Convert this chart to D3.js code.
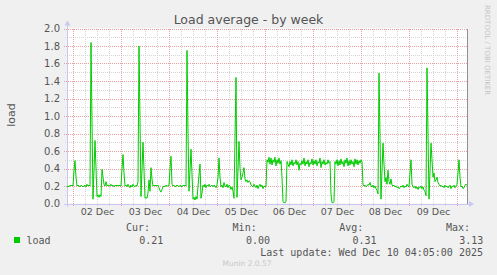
<!DOCTYPE html>
<html><head><meta charset="utf-8">
<script src="https://cdn.jsdelivr.net/npm/d3@7"></script>
<style>body{margin:0;background:#f0f0f0;} svg{display:block}</style>
</head><body><svg id="c" width="497" height="275"></svg>
<script>
const title = "Load average - by week";
const seriesName = "load";
const axisLabel = "load";
const windowStart = "2025-12-01T21:00:00Z";
const windowEnd = "2025-12-10T05:00:00Z";
// half-hour steps from window start
const stepIdx = [0,1,2,3,4,5,6,7,8,9,10,11,12,13,14,15,16,17,18,19,20,21,22,23,24,26,28,30,31,32,33,34,35,36,37,38,39,40,41,43,44,45,46,47,48,49,50,51,52,53,54,55,56,57,58,59,60,61,62,63,64,65,66,67,68,69,70,71,72,74,76,78,79,80,81,82,83,84,85,86,87,88,89,90,91,92,93,94,95,96,97,98,99,100,101,102,103,104,105,106,107,108,109,110,111,112,113,114,115,116,117,118,119,120,121,122,124,126,127,128,129,130,131,133,134,135,136,137,138,139,140,141,142,143,144,145,146,147,148,149,150,151,152,153,154,155,156,157,158,159,160,161,162,163,164,165,166,167,169,170,172,173,174,175,176,177,178,179,180,181,182,183,184,185,186,187,188,189,190,191,192,193,194,195,196,197,198,199,200,201,202,203,204,205,206,207,208,209,210,211,212,213,214,215,216,217,218,219,220,221,222,223,224,225,226,227,228,229,230,231,232,233,234,235,236,237,238,239,240,241,242,243,244,245,246,247,248,249,250,251,252,253,254,255,256,257,258,259,260,261,262,263,264,265,266,267,268,269,270,271,272,273,274,275,276,277,278,279,280,281,282,283,284,285,286,287,288,289,290,291,292,293,294,295,296,297,298,299,300,301,302,303,304,305,306,307,308,309,310,311,312,314,316,317,318,319,320,321,322,323,324,325,326,327,328,329,330,331,332,333,334,335,336,337,338,339,340,341,342,343,344,345,346,347,348,349,350,351,352,353,354,355,356,357,358,359,360,362,364,365,366,367,368,369,370,371,372,373,374,375,376,377,378,379,380,381,382,383,384,385,386,387,388,389,390,391,392,393,394,395,396,397,398,399,400];
const loadValues = [0.19,0.20,0.19,0.21,0.20,0.21,0.20,0.38,0.49,0.30,0.20,0.21,0.20,0.19,0.21,0.20,0.19,0.20,0.21,0.19,0.22,0.20,0.21,0.20,1.84,0.05,0.72,0.08,0.10,0.07,0.10,0.08,0.39,0.30,0.22,0.20,0.25,0.20,0.21,0.20,0.22,0.20,0.21,0.19,0.21,0.20,0.21,0.20,0.21,0.20,0.20,0.40,0.56,0.35,0.20,0.21,0.19,0.22,0.20,0.18,0.21,0.19,0.22,0.20,0.19,0.21,0.20,0.25,1.80,0.08,0.70,0.06,0.07,0.06,0.12,0.27,0.14,0.41,0.28,0.20,0.21,0.20,0.21,0.20,0.21,0.18,0.15,0.13,0.16,0.19,0.20,0.19,0.21,0.20,0.20,0.21,0.40,0.54,0.22,0.20,0.21,0.19,0.20,0.21,0.20,0.19,0.21,0.20,0.19,0.21,0.20,0.21,0.20,1.75,0.80,0.14,0.62,0.05,0.07,0.04,0.08,0.05,0.20,0.45,0.06,0.12,0.21,0.19,0.22,0.18,0.21,0.20,0.22,0.19,0.20,0.21,0.19,0.21,0.20,0.18,0.21,0.30,0.52,0.30,0.19,0.21,0.18,0.24,0.20,0.19,0.22,0.18,0.21,0.20,0.16,0.19,0.14,0.06,1.44,0.07,0.71,0.40,0.27,0.30,0.35,0.41,0.28,0.25,0.27,0.24,0.26,0.25,0.21,0.20,0.19,0.22,0.20,0.18,0.21,0.17,0.20,0.22,0.19,0.21,0.17,0.20,0.19,0.20,0.50,0.47,0.53,0.45,0.52,0.44,0.50,0.47,0.53,0.43,0.50,0.46,0.52,0.45,0.49,0.30,0.02,0.01,0.01,0.02,0.48,0.45,0.42,0.48,0.44,0.50,0.43,0.47,0.45,0.50,0.44,0.48,0.38,0.46,0.44,0.49,0.45,0.52,0.43,0.48,0.45,0.50,0.42,0.47,0.45,0.51,0.44,0.49,0.45,0.50,0.43,0.48,0.46,0.52,0.41,0.48,0.45,0.50,0.44,0.47,0.45,0.50,0.46,0.48,0.10,0.01,0.01,0.02,0.48,0.45,0.50,0.43,0.49,0.44,0.51,0.45,0.48,0.42,0.50,0.46,0.52,0.43,0.49,0.44,0.50,0.45,0.48,0.42,0.51,0.45,0.50,0.44,0.49,0.46,0.50,0.48,0.21,0.20,0.21,0.19,0.20,0.22,0.21,0.24,0.20,0.19,0.21,0.18,0.20,0.17,0.15,0.11,1.49,0.05,0.69,0.45,0.25,0.30,0.22,0.38,0.25,0.22,0.28,0.21,0.20,0.21,0.19,0.20,0.18,0.19,0.17,0.18,0.20,0.19,0.21,0.18,0.20,0.19,0.22,0.20,0.19,0.35,0.50,0.22,0.19,0.18,0.20,0.17,0.19,0.16,0.19,0.18,0.20,0.17,0.19,0.15,0.14,0.09,1.55,0.05,0.69,0.50,0.30,0.35,0.25,0.27,0.30,0.24,0.22,0.20,0.21,0.19,0.20,0.18,0.21,0.19,0.20,0.18,0.19,0.21,0.17,0.20,0.19,0.21,0.18,0.20,0.22,0.35,0.50,0.30,0.19,0.20,0.17,0.18,0.21,0.22,0.21];
const yTickValues = [0,0.2,0.4,0.6,0.8,1.0,1.2,1.4,1.6,1.8,2.0];
const yMinorValues = [0.1,0.3,0.5,0.7,0.9,1.1,1.3,1.5,1.7,1.9];
const dayLabels = ["02 Dec","03 Dec","04 Dec","05 Dec","06 Dec","07 Dec","08 Dec","09 Dec"];
const legendHeads = ["Cur:","Min:","Avg:","Max:"];
const legendVals = ["0.21","0.00","0.31","3.13"];
const lastUpdate = "Last update: Wed Dec 10 04:05:00 2025";
const footer = "Munin 2.0.57";
const watermark = "RRDTOOL / TOBI OETIKER";

const svg = d3.select("#c");
const L = 67, R = 467, T = 28.5, B = 203.5;
const t0 = new Date(windowStart), t1 = new Date(windowEnd);
const x = d3.scaleUtc().domain([t0, t1]).range([L, R]);
const y = d3.scaleLinear().domain([0, 2]).range([B, T]);
const sans = "'DejaVu Sans', sans-serif", mono = "'DejaVu Sans Mono', monospace";

svg.append("rect").attr("width",497).attr("height",275).attr("fill","#f0f0f0");
svg.append("rect").attr("x",L).attr("y",T).attr("width",R-L).attr("height",B-T).attr("fill","#ffffff");

// grids
const minorHours = d3.utcHour.every(6).range(t0, t1).filter(d => d.getUTCHours() !== 0);
const days = d3.utcDay.range(t0, t1);
const g = svg.append("g").attr("shape-rendering","crispEdges");
g.selectAll(".vm").data(minorHours).join("line")
  .attr("x1", d => Math.round(x(d))+0.5).attr("x2", d => Math.round(x(d))+0.5)
  .attr("y1", T).attr("y2", B+2).attr("stroke","#d4d4d4").attr("stroke-dasharray","1,1");
g.selectAll(".hm").data(yMinorValues).join("line")
  .attr("x1", L-2).attr("x2", R).attr("y1", d => Math.round(y(d))+0.5).attr("y2", d => Math.round(y(d))+0.5)
  .attr("stroke","#d4d4d4").attr("stroke-dasharray","1,1");
g.selectAll(".vM").data(days).join("line")
  .attr("x1", d => Math.round(x(d))+0.5).attr("x2", d => Math.round(x(d))+0.5)
  .attr("y1", T).attr("y2", B+3).attr("stroke","#eaa0a0").attr("stroke-dasharray","1,1");
g.selectAll(".hM").data(yTickValues.slice(1)).join("line")
  .attr("x1", L-3).attr("x2", R).attr("y1", d => Math.round(y(d))+0.5).attr("y2", d => Math.round(y(d))+0.5)
  .attr("stroke","#eaa0a0").attr("stroke-dasharray","1,1");

// axes lines
g.append("line").attr("x1",L-3).attr("x2",R+3).attr("y1",B+0.5).attr("y2",B+0.5).attr("stroke","#c8c8f0");
g.append("line").attr("x1",L+0.5).attr("x2",L+0.5).attr("y1",T-4).attr("y2",B+3).attr("stroke","#c8c8f0");
g.append("line").attr("x1",R+0.5).attr("x2",R+0.5).attr("y1",T).attr("y2",B).attr("stroke","#909090");
svg.append("path").attr("d",`M${R+2},${B-2.5}L${R+7},${B+0.5}L${R+2},${B+3.5}Z`).attr("fill","#c8c8f0");
svg.append("path").attr("d",`M${L-2.5},${T-3}L${L+0.5},${T-8}L${L+3.5},${T-3}Z`).attr("fill","#c8c8f0");

// y axis labels
const yAxis = d3.axisLeft(y).tickValues(yTickValues).tickFormat(d3.format(".1f")).tickSize(0).tickPadding(7);
const ya = svg.append("g").attr("transform",`translate(${L},0)`).call(yAxis);
ya.select(".domain").remove();
ya.selectAll("text").attr("font-family",sans).attr("font-size",10).attr("fill","#555");

// x axis labels at midday
const labelDates = days.slice(0, dayLabels.length).map(d => d3.utcHour.offset(d, 12));
const xAxis = d3.axisBottom(x).tickValues(labelDates).tickFormat((d,i) => dayLabels[i]).tickSize(0).tickPadding(5);
const xa = svg.append("g").attr("transform",`translate(0,${B})`).call(xAxis);
xa.select(".domain").remove();
xa.selectAll("text").attr("font-family",sans).attr("font-size",9.5).attr("fill","#555");

// series
const pts = stepIdx.map((k,i) => [d3.utcMinute.offset(t0, 30*k), loadValues[i]]);
const line = d3.line().x(d => x(d[0])).y(d => y(d[1]));
svg.append("path").datum(pts).attr("d", line).attr("fill","none").attr("stroke","#00cc00").attr("stroke-width",1);

// title
svg.append("text").attr("x",248.5).attr("y",24).attr("text-anchor","middle")
  .attr("font-family",sans).attr("font-size",12.5).attr("fill","#555").text(title);
// axis label
svg.append("text").attr("transform","translate(15,115) rotate(-90)").attr("text-anchor","middle")
  .attr("font-family",sans).attr("font-size",11).attr("fill","#555").text(axisLabel);
// watermark
svg.append("text").attr("transform","translate(485,5) rotate(90)").attr("text-anchor","start")
  .attr("font-family",sans).attr("font-size",7).attr("fill","#c4c4c4").text(watermark);

// legend
svg.append("rect").attr("x",14).attr("y",237).attr("width",6).attr("height",6).attr("fill","#00cc00");
svg.append("text").attr("x",26.5).attr("y",243.5).attr("font-family",mono).attr("font-size",10).attr("fill","#555").text(seriesName);
const colEnds = [150, 256.7, 363.3, 470];
legendHeads.forEach((h,i) => {
  svg.append("text").attr("x",colEnds[i]).attr("y",231).attr("text-anchor","end")
    .attr("font-family",mono).attr("font-size",10).attr("fill","#555").text(h);
  svg.append("text").attr("x",colEnds[i]+13.3).attr("y",243.5).attr("text-anchor","end")
    .attr("font-family",mono).attr("font-size",10).attr("fill","#555").text(legendVals[i]);
});
svg.append("text").attr("x",483).attr("y",255.5).attr("text-anchor","end")
  .attr("font-family",mono).attr("font-size",10).attr("fill","#555").text(lastUpdate);
svg.append("text").attr("x",247).attr("y",266).attr("text-anchor","middle")
  .attr("font-family",sans).attr("font-size",7.5).attr("fill","#c8c8c8").text(footer);
</script></body></html>
